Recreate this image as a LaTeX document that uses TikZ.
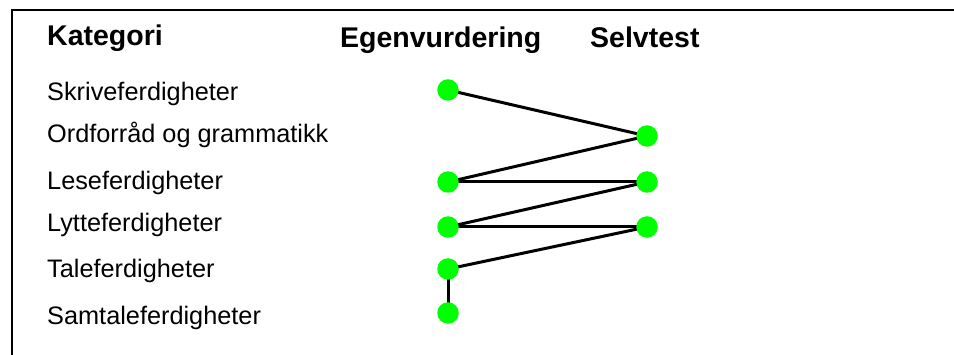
\documentclass[tikz,border=0pt]{standalone}
\usepackage{fontspec}
\setmainfont{Liberation Sans}
\begin{document}
\begin{tikzpicture}[x=1pt,y=-1pt,
  hdr/.style={anchor=base west,inner sep=0pt,font=\fontsize{28.5}{30}\selectfont\bfseries},
  lbl/.style={anchor=base west,inner sep=0pt,font=\fontsize{25.3}{28}\selectfont},
  dot/.style={circle,fill=green,inner sep=0pt,minimum size=21.5pt},
  link/.style={line width=3pt,black,line cap=round}]
\useasboundingbox (0,0) rectangle (954,355);
\fill[white] (0,0) rectangle (954,355);
\draw[line width=2pt] (12,356) -- (12,10) -- (955,10);
\node[hdr] (hk) at (47,46) {Kategori};
\node[hdr] (he) at (340,48) {Egenvurdering};
\node[hdr] (hs) at (590,48) {Selvtest};
\node[lbl] (l1) at (47,101) {Skriveferdigheter};
\node[lbl] (l2) at (47,143) {Ordforråd og grammatikk};
\node[lbl] (l3) at (47,190) {Leseferdigheter};
\node[lbl] (l4) at (47,232) {Lytteferdigheter};
\node[lbl] (l5) at (47,278) {Taleferdigheter};
\node[lbl] (l6) at (47,325) {Samtaleferdigheter};
\coordinate (e1) at (448,90);
\coordinate (e3) at (448,182);
\coordinate (e4) at (448,227);
\coordinate (e5) at (448,269);
\coordinate (e6) at (448,313);
\coordinate (s2) at (647,136);
\coordinate (s3) at (647,182);
\coordinate (s4) at (647,227);
\draw[link] (e1) -- (s2);
\draw[link] (s2) -- (e3);
\draw[link] (e3) -- (s3);
\draw[link] (s3) -- (e4);
\draw[link] (e4) -- (s4);
\draw[link] (s4) -- (e5);
\draw[link] (e5) -- (e6);
\foreach \p in {e1,e3,e4,e5,e6,s2,s3,s4} \node[dot] (d\p) at (\p) {};
\end{tikzpicture}
\end{document}
